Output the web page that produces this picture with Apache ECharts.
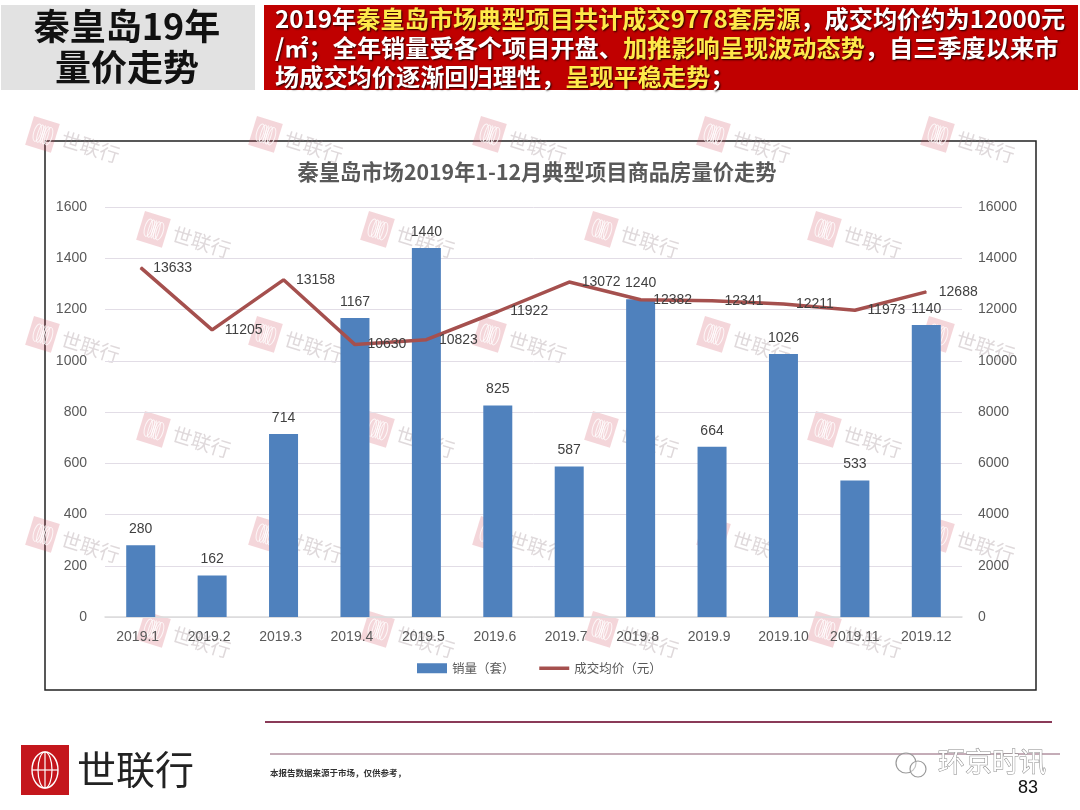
<!DOCTYPE html>
<html><head><meta charset="utf-8">
<style>html,body{margin:0;padding:0;background:#fff}#c{width:1080px;height:810px}</style>
<script src="https://cdn.jsdelivr.net/npm/echarts@6/dist/echarts.min.js"></script>
</head><body><div id="c"></div>
<script>
const categories=['2019.1','2019.2','2019.3','2019.4','2019.5','2019.6','2019.7','2019.8','2019.9','2019.10','2019.11','2019.12'];
const salesVolume=[280,162,714,1167,1440,825,587,1240,664,1026,533,1140];
const avgPrice=[13633,11205,13158,10630,10823,11922,13072,12382,12341,12211,11973,12688];
const seriesNames=['销量（套）','成交均价（元）'];
const chartTitle='秦皇岛市场2019年1-12月典型项目商品房量价走势';
const CJK='"Noto Sans CJK SC","Liberation Sans",sans-serif';
const LAT='"Liberation Sans","Noto Sans CJK SC",sans-serif';
const chart=echarts.init(document.getElementById('c'));

function watermark(x,y){
  const lines=[-6,-3,0,3,6].map(d=>({type:'ellipse',shape:{cx:14+d,cy:15,rx:1+Math.abs(d)*0.4,ry:9},style:{fill:'none',stroke:'rgba(255,255,255,0.8)',lineWidth:1}}));
  return {type:'group',x:x+4,y:y,rotation:-0.30,z:50,silent:true,children:[
    {type:'rect',shape:{x:0,y:0,width:27,height:30},style:{fill:'rgba(205,70,85,0.22)'}}].concat(lines,[
    {type:'text',x:33,y:3,style:{text:'世联行',font:'20px '+CJK,fill:'rgba(150,130,135,0.3)'}}
  ])};
}
const marks=[];
[[116,[30,253,477,701,925]],[211,[141,365,589,812]],[316,[30,253,477,701,925]],[411,[141,365,589,812]],[516,[30,253,477,701,925]],[611,[141,365,589,812]]]
 .forEach(r=>r[1].forEach(x=>marks.push(watermark(x,r[0]))));

const shadow={textShadowColor:'rgba(0,0,0,0.85)',textShadowBlur:2,textShadowOffsetX:1,textShadowOffsetY:1};
const rich={w:{font:'bold 24.2px '+CJK,fill:'#fff',color:'#fff'},y:{font:'bold 24.2px '+CJK,fill:'#ffe94a',color:'#ffe94a'}};
const bgGraphics=[
  {type:'rect',z:-10,shape:{x:1,y:5,width:254,height:85},style:{fill:'#e2e2e2'}},
  {type:'rect',z:-10,shape:{x:264,y:5,width:814,height:85},style:{fill:'#c00000'}},
  {type:'text',x:127,y:26,z:5,style:{text:'秦皇岛19年',font:'bold 36px '+CJK,fill:'#111',align:'center',verticalAlign:'middle'}},
  {type:'text',x:127,y:67,z:5,style:{text:'量价走势',font:'bold 36px '+CJK,fill:'#111',align:'center',verticalAlign:'middle'}},
  {type:'text',x:275,y:19,z:5,style:Object.assign({
    text:'{w|2019年}{y|秦皇岛市场典型项目共计成交9778套房源}{w|，成交均价约为12000元}',
    rich:rich,verticalAlign:'middle'},shadow)},
  {type:'text',x:275,y:48,z:5,style:Object.assign({
    text:'{w|/㎡；全年销量受各个项目开盘、}{y|加推影响呈现波动态势}{w|，自三季度以来市}',
    rich:rich,verticalAlign:'middle'},shadow)},
  {type:'text',x:275,y:77,z:5,style:Object.assign({
    text:'{w|场成交均价逐渐回归理性，}{y|呈现平稳走势}{w|；}',
    rich:rich,verticalAlign:'middle'},shadow)},
  {type:'rect',z:-5,shape:{x:45,y:141,width:991,height:549},style:{fill:'#fff',stroke:'#222',lineWidth:1.5}},
  {type:'line',z:1,shape:{x1:265,y1:722,x2:1052,y2:722},style:{stroke:'#8a3a58',lineWidth:2}},
  {type:'line',z:1,shape:{x1:270,y1:754,x2:1060,y2:754},style:{stroke:'#8a5a70',lineWidth:1}},
  {type:'rect',z:1,shape:{x:21,y:745,width:48,height:50},style:{fill:'#c4161c'}},
  {type:'ellipse',z:2,shape:{cx:45,cy:770,rx:13,ry:18},style:{fill:'none',stroke:'#fff',lineWidth:1.4}},
  {type:'ellipse',z:2,shape:{cx:45,cy:770,rx:7,ry:18},style:{fill:'none',stroke:'#fff',lineWidth:1.2}},
  {type:'line',z:2,shape:{x1:45,y1:752,x2:45,y2:788},style:{stroke:'#fff',lineWidth:1.2}},
  {type:'line',z:2,shape:{x1:32,y1:770,x2:58,y2:770},style:{stroke:'#fff',lineWidth:1.2}},
  {type:'text',x:77,y:769,z:2,style:{text:'世联行',font:'39px '+CJK,fill:'#222',verticalAlign:'middle'}},
  {type:'text',x:270,y:773,z:2,style:{text:'本报告数据来源于市场，仅供参考，',font:'bold 8.5px '+CJK,fill:'#333',verticalAlign:'middle'}},
  {type:'text',x:1018,y:788,z:2,style:{text:'83',font:'18px '+LAT,fill:'#111',verticalAlign:'middle'}},
  {type:'circle',z:60,shape:{cx:906,cy:763,r:10},style:{fill:'rgba(255,255,255,0.4)',stroke:'#9a9a9a',lineWidth:1.2}},
  {type:'circle',z:60,shape:{cx:918,cy:769,r:8},style:{fill:'rgba(255,255,255,0.4)',stroke:'#9a9a9a',lineWidth:1.2}},
  {type:'text',x:938,y:762,z:60,style:{text:'环京时讯',font:'27px '+CJK,fill:'#fff',stroke:'#8a8a8a',lineWidth:1,verticalAlign:'middle'}}
];

chart.setOption({
  animation:false,
  backgroundColor:'#fff',
  title:{text:chartTitle,left:532,top:167,textAlign:'center',textVerticalAlign:'middle',
    textStyle:{fontFamily:CJK,fontSize:21.3,fontWeight:'bold',color:'#595959'}},
  legend:{left:412,top:657,itemGap:23,itemWidth:30,itemHeight:10,
    textStyle:{fontFamily:CJK,fontSize:12.5,color:'#595959'},
    data:[{name:seriesNames[0],icon:'rect'},{name:seriesNames[1],itemStyle:{opacity:0},lineStyle:{width:3.5,color:'#a5504e'}}]},
  grid:{left:105,right:118,top:207,bottom:193},
  xAxis:{type:'category',
    data:categories.map(c=>c.length<7?{value:c,textStyle:{padding:[0,6,0,0]}}:c),
    axisLine:{lineStyle:{color:'#dcdcdc',width:1.5}},axisTick:{show:false},
    axisLabel:{fontFamily:LAT,fontSize:14,color:'#595959',margin:13,interval:0}},
  yAxis:[
    {type:'value',min:0,max:1600,interval:200,position:'left',
      axisLine:{show:false},axisTick:{show:false},
      axisLabel:{fontFamily:LAT,fontSize:14,color:'#595959',margin:18,formatter:v=>String(v)},
      splitLine:{lineStyle:{color:'#e2dde6',width:1}}},
    {type:'value',min:0,max:16000,interval:2000,position:'right',
      axisLine:{show:false},axisTick:{show:false},
      axisLabel:{fontFamily:LAT,fontSize:14,color:'#595959',margin:16,formatter:v=>String(v)},
      splitLine:{show:false}}
  ],
  series:[
    {name:seriesNames[0],type:'bar',data:salesVolume,barWidth:29,yAxisIndex:0,
      itemStyle:{color:'#4f81bd'},
      label:{show:true,position:'top',distance:9,fontFamily:LAT,fontSize:14,color:'#404040'}},
    {name:seriesNames[1],type:'line',data:avgPrice,yAxisIndex:1,symbol:'circle',symbolSize:1,showSymbol:true,showAllSymbol:true,smooth:false,
      lineStyle:{color:'#a5504e',width:3.5},itemStyle:{color:'#a5504e'},z:5,
      label:{show:true,position:'right',distance:12,fontFamily:LAT,fontSize:14,color:'#404040'}}
  ],
  graphic:{elements:bgGraphics.concat(marks)}
});
</script></body></html>
